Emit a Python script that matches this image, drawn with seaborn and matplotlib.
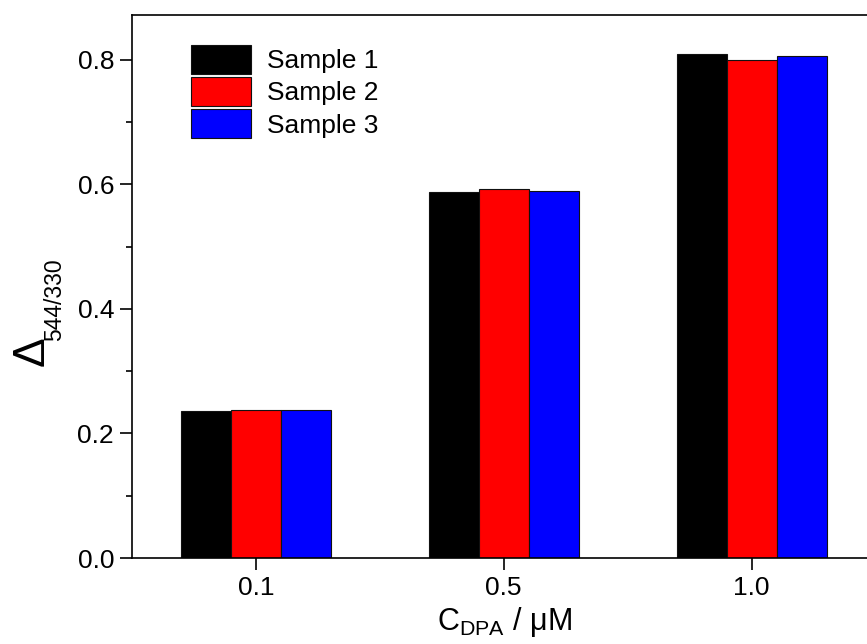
import matplotlib
matplotlib.use("Agg")
import matplotlib.pyplot as plt
import pandas as pd
import seaborn as sns
from matplotlib.ticker import MultipleLocator, FormatStrFormatter

# ---- data ----
concentrations = ["0.1", "0.5", "1.0"]
samples = ["Sample 1", "Sample 2", "Sample 3"]
sample1 = [0.236, 0.587, 0.809]
sample2 = [0.237, 0.593, 0.799]
sample3 = [0.238, 0.590, 0.806]
colors = ["#000000", "#FF0000", "#0000FF"]

sns.set_theme(style="ticks")
plt.rcParams["font.family"] = ["Liberation Sans", "DejaVu Sans"]
plt.rcParams["mathtext.fontset"] = "custom"
plt.rcParams["mathtext.rm"] = "Liberation Sans"
plt.rcParams["text.color"] = "black"
plt.rcParams["axes.labelcolor"] = "black"
plt.rcParams["xtick.color"] = "black"
plt.rcParams["ytick.color"] = "black"

df = pd.DataFrame({
    "conc": concentrations * 3,
    "value": sample1 + sample2 + sample3,
    "sample": [samples[0]] * 3 + [samples[1]] * 3 + [samples[2]] * 3,
})

W, H = 867, 644
fig = plt.figure(figsize=(W / 100, H / 100), dpi=100)
left, right, top, bottom = 132, 875.5, 15, 558
ax = fig.add_axes([left / W, (H - bottom) / H, (right - left) / W, (bottom - top) / H])

sns.barplot(data=df, x="conc", y="value", hue="sample", order=concentrations,
            hue_order=samples, palette=colors, saturation=1, width=0.605,
            edgecolor="#111111", linewidth=0.8, errorbar=None, ax=ax)

ax.set_xlim(-0.5, 2.5)
ax.set_ylim(0, 0.872)
ax.yaxis.set_major_locator(MultipleLocator(0.2))
ax.yaxis.set_minor_locator(MultipleLocator(0.1))
ax.yaxis.set_major_formatter(FormatStrFormatter("%.1f"))
ax.tick_params(axis="both", which="major", direction="out", length=8.6, width=1.2,
               labelsize=19, pad=4.3, color="black", labelcolor="black")
ax.tick_params(axis="y", which="minor", direction="out", length=4.5, width=1.2, color="black")
for s in ax.spines.values():
    s.set_linewidth(1.2)
    s.set_color("black")
    s.set_visible(True)

ax.set_ylabel("")
ax.set_xlabel(r"C$_{\mathregular{DPA}}$ / μM", fontsize=22, color="black")
ax.xaxis.label.set_va("baseline")
ax.xaxis.set_label_coords((504 - left) / (right - left), (bottom - 630) / (bottom - top))

# y label: Delta with subscript
fig.text(12 / W, (H - 366) / H, "Δ", rotation=90, fontsize=32, ha="left", va="bottom",
         color="black")
fig.text(43 / W, (H - 341) / H, "544/330", rotation=90, fontsize=16.5, ha="left",
         va="bottom", color="black")

handles, labels = ax.get_legend_handles_labels()
leg = ax.legend(handles, labels, loc="upper left", bbox_to_anchor=(190.7 / W, (H - 45) / H),
                bbox_transform=fig.transFigure, frameon=False, fontsize=19,
                handlelength=2.28, handleheight=1.313, handletextpad=0.6, labelspacing=0.12,
                borderpad=0, borderaxespad=0)
for t in leg.get_texts():
    t.set_color("black")

fig.savefig("out.png", dpi=100)
